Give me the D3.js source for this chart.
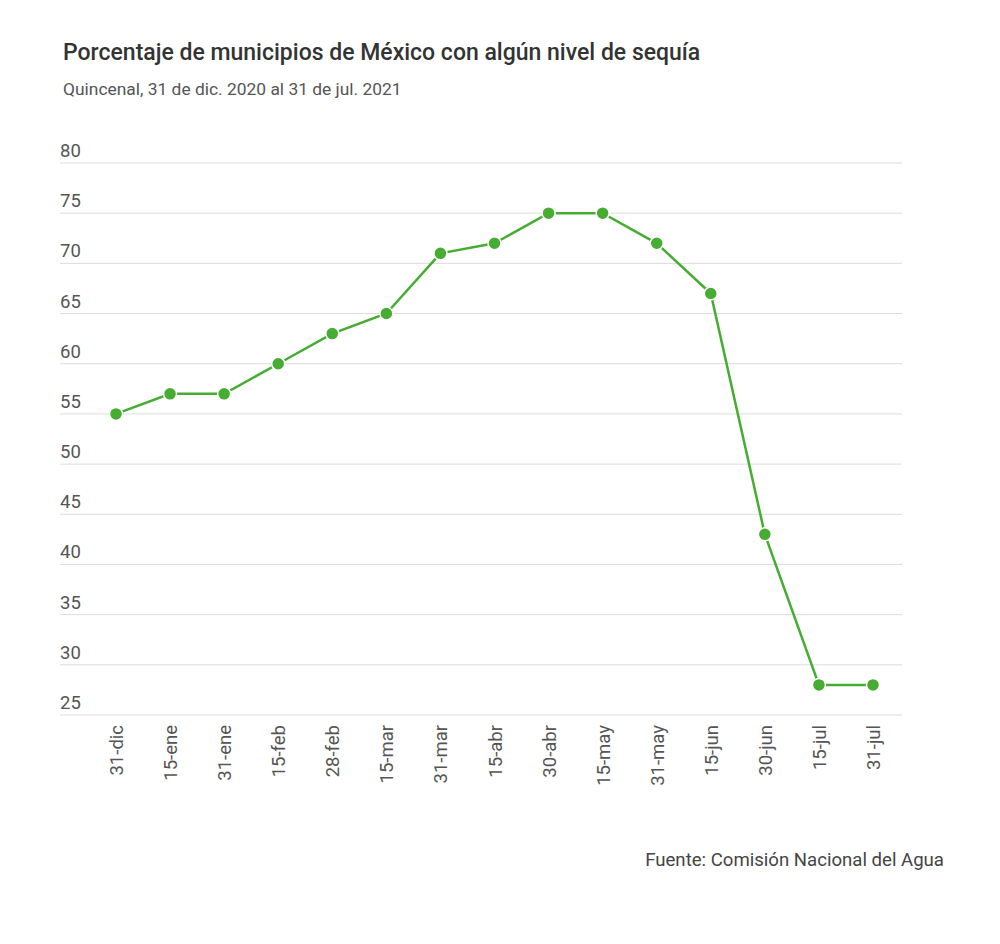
<!DOCTYPE html>
<html><head><meta charset="utf-8">
<script src="https://cdn.jsdelivr.net/npm/d3@7"></script>
<style>body{margin:0;background:#fff;font-family:Roboto,sans-serif;}</style>
</head><body><svg id="c" width="1000" height="944"></svg>
<script>
const categories=["31-dic","15-ene","31-ene","15-feb","28-feb","15-mar","31-mar","15-abr","30-abr","15-may","31-may","15-jun","30-jun","15-jul","31-jul"];
const values=[55,57,57,60,63,65,71,72,75,75,72,67,43,28,28];
const yTicks=[25,30,35,40,45,50,55,60,65,70,75,80];
const title="Porcentaje de municipios de México con algún nivel de sequía";
const subtitle="Quincenal, 31 de dic. 2020 al 31 de jul. 2021";
const source="Fuente: Comisión Nacional del Agua";

const svg=d3.select("#c");
const x=d3.scalePoint().domain(categories).range([116,873]);
const y=d3.scaleLinear().domain([25,80]).range([715,163]);
const gridL=60,gridR=902;
const green="#46ad32";

svg.append("text").attr("x",63).attr("y",60).attr("font-size",23).attr("font-weight",500).attr("fill","#333").text(title);
svg.append("text").attr("x",63).attr("y",95).attr("font-size",17.4).attr("fill","#555").text(subtitle);

const g=svg.append("g");
g.selectAll("line.grid").data(yTicks).join("line").attr("class","grid")
 .attr("x1",gridL).attr("x2",gridR).attr("y1",d=>y(d)).attr("y2",d=>y(d))
 .attr("stroke","#dcdcdc").attr("stroke-width",1);
g.selectAll("text.yl").data(yTicks).join("text").attr("class","yl")
 .attr("x",60).attr("y",d=>y(d)-6).attr("font-size",18.5).attr("fill","#555").text(d=>d);

const line=d3.line().x((d,i)=>x(categories[i])).y(d=>y(d));
g.append("path").datum(values).attr("d",line).attr("fill","none").attr("stroke",green).attr("stroke-width",2.5);
g.selectAll("circle").data(values).join("circle")
 .attr("cx",(d,i)=>x(categories[i])).attr("cy",d=>y(d)).attr("r",6.5)
 .attr("fill",green).attr("stroke","#fff").attr("stroke-width",1.5);

g.selectAll("text.xl").data(categories).join("text").attr("class","xl")
 .attr("transform",d=>`translate(${x(d)+7},725) rotate(-90)`)
 .attr("text-anchor","end").attr("font-size",18.5).attr("fill","#555").text(d=>d);

svg.append("text").attr("x",944).attr("y",866).attr("text-anchor","end").attr("font-size",18.6).attr("fill","#444").text(source);
</script></body></html>
